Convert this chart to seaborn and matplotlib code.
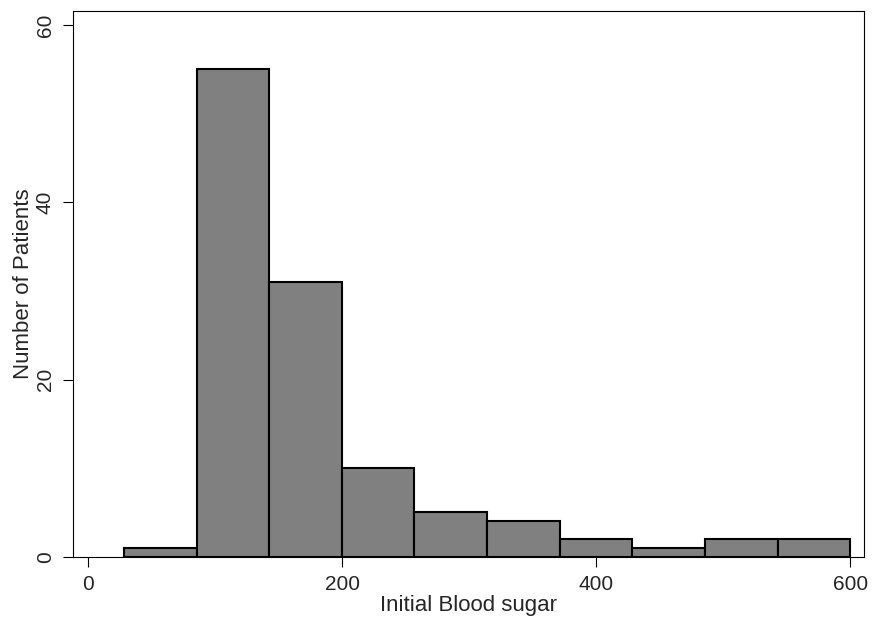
import numpy as np
import pandas as pd
import matplotlib
matplotlib.use("Agg")
import matplotlib.pyplot as plt
import seaborn as sns

# Histogram of initial blood sugar: 10 equal-width bins from 28 to 600
bin_lo, bin_hi, n_bins = 28, 600, 10
counts = [1, 55, 31, 10, 5, 4, 2, 1, 2, 2]
x_ticks = [0, 200, 400, 600]
y_ticks = [0, 20, 40, 60]

edges = np.linspace(bin_lo, bin_hi, n_bins + 1)
centers = (edges[:-1] + edges[1:]) / 2
df = pd.DataFrame({"sugar": centers, "n": counts})

sns.set_style("white")
plt.rcParams["font.family"] = ["Liberation Sans", "DejaVu Sans"]

fig = plt.figure(figsize=(8.74, 6.18), dpi=100)
ax = fig.add_axes([0.0832, 0.0992, 0.9054, 0.8830])

sns.histplot(data=df, x="sugar", weights="n", bins=n_bins,
             binrange=(bin_lo, bin_hi), ax=ax,
             color="#808080", alpha=1.0, edgecolor="black", linewidth=1.5)

ax.set_xlim(-12.3, 610.8)
ax.set_ylim(0, 61.6)
ax.set_xticks(x_ticks)
ax.set_yticks(y_ticks)
ax.set_xticklabels([str(v) for v in x_ticks], fontsize=15)
ax.set_yticklabels([str(v) for v in y_ticks], fontsize=15, rotation=90, va="center")
ax.tick_params(axis="both", direction="out", length=7, width=0.8, color="black",
               pad=6, bottom=True, left=True)

ax.set_xlabel("Initial Blood sugar", fontsize=16, labelpad=1)
ax.set_ylabel("Number of Patients", fontsize=16, labelpad=1)

for s in ax.spines.values():
    s.set_visible(True)
    s.set_color("black")
    s.set_linewidth(0.8)

fig.savefig("out.png", dpi=100, facecolor="white")
